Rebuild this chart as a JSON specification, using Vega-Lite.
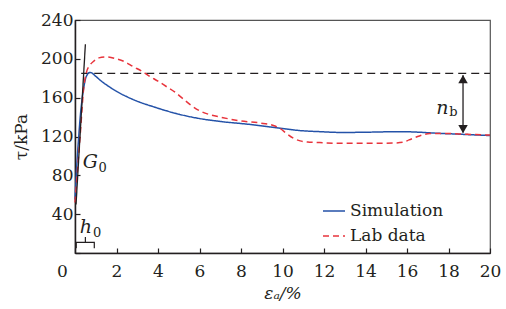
{
  "$schema": "https://vega.github.io/schema/vega-lite/v6.json",
  "width": 415,
  "height": 233,
  "autosize": "none",
  "padding": {"left": 75, "top": 20, "right": 16, "bottom": 56},
  "background": "white",
  "config": {
    "font": "DejaVu Serif",
    "view": {"stroke": "#555555", "strokeWidth": 1.2},
    "axis": {
      "grid": false,
      "domainColor": "#231f20",
      "domainWidth": 1.5,
      "tickColor": "#231f20",
      "tickWidth": 1.2,
      "tickSize": -5,
      "labelFont": "DejaVu Serif",
      "labelFontSize": 17,
      "labelColor": "#231f20",
      "labelOverlap": false,
      "titleFont": "DejaVu Serif",
      "titleFontSize": 17,
      "titleFontWeight": "normal",
      "titleColor": "#231f20"
    },
    "legend": {
      "orient": "none",
      "legendX": 247,
      "legendY": 179,
      "title": null,
      "symbolType": "stroke",
      "symbolSize": 484,
      "symbolStrokeWidth": 1.5,
      "labelFont": "DejaVu Serif",
      "labelFontSize": 17,
      "labelColor": "#231f20",
      "labelOffset": 4,
      "rowPadding": 5,
      "padding": 0
    }
  },
  "datasets": {
    "curves": [
      {"series": "Simulation", "x": 0, "y": 55},
      {"series": "Simulation", "x": 0.1, "y": 95},
      {"series": "Simulation", "x": 0.18, "y": 120},
      {"series": "Simulation", "x": 0.26, "y": 142},
      {"series": "Simulation", "x": 0.34, "y": 158},
      {"series": "Simulation", "x": 0.42, "y": 170},
      {"series": "Simulation", "x": 0.5, "y": 179},
      {"series": "Simulation", "x": 0.6, "y": 184},
      {"series": "Simulation", "x": 0.7, "y": 186},
      {"series": "Simulation", "x": 0.8, "y": 185.5},
      {"series": "Simulation", "x": 1.0, "y": 182},
      {"series": "Simulation", "x": 1.3, "y": 176.5},
      {"series": "Simulation", "x": 1.6, "y": 172},
      {"series": "Simulation", "x": 2.0, "y": 166.5},
      {"series": "Simulation", "x": 2.5, "y": 161},
      {"series": "Simulation", "x": 3.1, "y": 155.5},
      {"series": "Simulation", "x": 3.8, "y": 150.5},
      {"series": "Simulation", "x": 4.4, "y": 146.5},
      {"series": "Simulation", "x": 5.1, "y": 142.5},
      {"series": "Simulation", "x": 6.0, "y": 138.5},
      {"series": "Simulation", "x": 7.0, "y": 135.5},
      {"series": "Simulation", "x": 8.4, "y": 132.5},
      {"series": "Simulation", "x": 9.9, "y": 128.5},
      {"series": "Simulation", "x": 10.9, "y": 126},
      {"series": "Simulation", "x": 11.8, "y": 125},
      {"series": "Simulation", "x": 12.8, "y": 124.2},
      {"series": "Simulation", "x": 13.8, "y": 124.3},
      {"series": "Simulation", "x": 14.7, "y": 124.7},
      {"series": "Simulation", "x": 15.7, "y": 125},
      {"series": "Simulation", "x": 16.5, "y": 124.5},
      {"series": "Simulation", "x": 17.5, "y": 123.3},
      {"series": "Simulation", "x": 18.5, "y": 122.4},
      {"series": "Simulation", "x": 19.3, "y": 121.6},
      {"series": "Simulation", "x": 20, "y": 121},
      {"series": "Lab data", "x": 0, "y": 52},
      {"series": "Lab data", "x": 0.1, "y": 80},
      {"series": "Lab data", "x": 0.26, "y": 124},
      {"series": "Lab data", "x": 0.42, "y": 170},
      {"series": "Lab data", "x": 0.55, "y": 186},
      {"series": "Lab data", "x": 0.7, "y": 193},
      {"series": "Lab data", "x": 0.9, "y": 197.5},
      {"series": "Lab data", "x": 1.15, "y": 201},
      {"series": "Lab data", "x": 1.5, "y": 202},
      {"series": "Lab data", "x": 2.0, "y": 200},
      {"series": "Lab data", "x": 2.4, "y": 197},
      {"series": "Lab data", "x": 2.8, "y": 192},
      {"series": "Lab data", "x": 3.2, "y": 187.5},
      {"series": "Lab data", "x": 3.6, "y": 182},
      {"series": "Lab data", "x": 4.0, "y": 177},
      {"series": "Lab data", "x": 4.4, "y": 171.5},
      {"series": "Lab data", "x": 4.8, "y": 166},
      {"series": "Lab data", "x": 5.2, "y": 159},
      {"series": "Lab data", "x": 5.6, "y": 152},
      {"series": "Lab data", "x": 6.0, "y": 146.5},
      {"series": "Lab data", "x": 6.5, "y": 142.5},
      {"series": "Lab data", "x": 7.0, "y": 140},
      {"series": "Lab data", "x": 8.0, "y": 136},
      {"series": "Lab data", "x": 8.9, "y": 134},
      {"series": "Lab data", "x": 9.6, "y": 131},
      {"series": "Lab data", "x": 9.9, "y": 128},
      {"series": "Lab data", "x": 10.2, "y": 123},
      {"series": "Lab data", "x": 10.5, "y": 118.5},
      {"series": "Lab data", "x": 10.85, "y": 115.5},
      {"series": "Lab data", "x": 11.3, "y": 114.2},
      {"series": "Lab data", "x": 11.8, "y": 113.7},
      {"series": "Lab data", "x": 12.8, "y": 113},
      {"series": "Lab data", "x": 13.8, "y": 113},
      {"series": "Lab data", "x": 14.7, "y": 113},
      {"series": "Lab data", "x": 15.4, "y": 113.3},
      {"series": "Lab data", "x": 15.8, "y": 114},
      {"series": "Lab data", "x": 16.1, "y": 116.5},
      {"series": "Lab data", "x": 16.6, "y": 120.6},
      {"series": "Lab data", "x": 17.1, "y": 123},
      {"series": "Lab data", "x": 17.8, "y": 123.2},
      {"series": "Lab data", "x": 18.5, "y": 122.7},
      {"series": "Lab data", "x": 19.3, "y": 122},
      {"series": "Lab data", "x": 20, "y": 121.5}
    ],
    "tangent": [
      {"x": 0.05, "y": 50},
      {"x": 0.5, "y": 215}
    ],
    "bracket": [
      {"i": 1, "x": 0.06, "y": 5},
      {"i": 2, "x": 0.06, "y": 11},
      {"i": 3, "x": 0.5, "y": 11},
      {"i": 4, "x": 0.5, "y": 16.5},
      {"i": 5, "x": 0.5, "y": 11},
      {"i": 6, "x": 0.93, "y": 11},
      {"i": 7, "x": 0.93, "y": 5}
    ],
    "peakline": [{"x": 0.3, "x2": 20, "y": 185}],
    "arrow": [{"x": 18.7, "y": 183, "y2": 124}],
    "arrowUp": [{"x": 18.7, "y": 179}],
    "arrowDown": [{"x": 18.7, "y": 127.5}],
    "mainLabels": [
      {"t": "G", "x": 0.74, "y": 94},
      {"t": "h", "x": 0.52, "y": 27},
      {"t": "n", "x": 17.7, "y": 149.5}
    ],
    "subLabels": [
      {"t": "0", "x": 1.33, "y": 88},
      {"t": "0", "x": 1.07, "y": 21},
      {"t": "b", "x": 18.24, "y": 145}
    ]
  },
  "layer": [
    {
      "data": {"name": "peakline"},
      "mark": {"type": "rule", "color": "#231f20", "strokeWidth": 1.2, "strokeDash": [8, 5]},
      "encoding": {
        "x": {"field": "x", "type": "quantitative", "scale": {"domain": [0, 20], "nice": false}},
        "x2": {"field": "x2"},
        "y": {"field": "y", "type": "quantitative", "scale": {"domain": [0, 240], "nice": false}}
      }
    },
    {
      "data": {"name": "curves"},
      "mark": {"type": "line", "strokeWidth": 1.5, "interpolate": "monotone"},
      "encoding": {
        "x": {
          "field": "x", "type": "quantitative",
          "scale": {"domain": [0, 20], "nice": false},
          "axis": {
            "values": [0, 2, 4, 6, 8, 10, 12, 14, 16, 18, 20],
            "tickCount": 20,
            "title": "εₐ/%",
            "titleFontStyle": "italic",
            "labelOverlap": false,
            "labelPadding": 15,
            "titlePadding": 6,
            "labelFlush": false,
            "labelOffset": {"condition": {"test": "datum.value === 0", "value": -13}, "value": 0}
          }
        },
        "y": {
          "field": "y", "type": "quantitative",
          "scale": {"domain": [0, 240], "nice": false},
          "axis": {
            "values": [0, 40, 80, 120, 160, 200, 240],
            "tickCount": 20,
            "labelExpr": "datum.value === 0 ? '' : datum.label",
            "title": "τ/kPa",
            "labelOverlap": false,
            "labelPadding": 7,
            "titlePadding": 10,
            "labelFlush": false
          }
        },
        "color": {
          "field": "series", "type": "nominal",
          "scale": {"domain": ["Simulation", "Lab data"], "range": ["#2452a8", "#e8343c"]}
        },
        "strokeDash": {
          "field": "series", "type": "nominal",
          "scale": {"domain": ["Simulation", "Lab data"], "range": [[1, 0], [6, 4]]}
        }
      }
    },
    {
      "data": {"name": "tangent"},
      "mark": {"type": "line", "color": "#231f20", "strokeWidth": 1.3},
      "encoding": {
        "x": {"field": "x", "type": "quantitative"},
        "y": {"field": "y", "type": "quantitative"}
      }
    },
    {
      "data": {"name": "bracket"},
      "mark": {"type": "line", "color": "#231f20", "strokeWidth": 1.2},
      "encoding": {
        "x": {"field": "x", "type": "quantitative"},
        "y": {"field": "y", "type": "quantitative"},
        "order": {"field": "i", "type": "quantitative"}
      }
    },
    {
      "data": {"name": "arrow"},
      "mark": {"type": "rule", "color": "#231f20", "strokeWidth": 1.3},
      "encoding": {
        "x": {"field": "x", "type": "quantitative"},
        "y": {"field": "y", "type": "quantitative"},
        "y2": {"field": "y2"}
      }
    },
    {
      "data": {"name": "arrowUp"},
      "mark": {"type": "point", "shape": "triangle-up", "filled": true, "color": "#231f20", "size": 90, "opacity": 1},
      "encoding": {
        "x": {"field": "x", "type": "quantitative"},
        "y": {"field": "y", "type": "quantitative"}
      }
    },
    {
      "data": {"name": "arrowDown"},
      "mark": {"type": "point", "shape": "triangle-down", "filled": true, "color": "#231f20", "size": 90, "opacity": 1},
      "encoding": {
        "x": {"field": "x", "type": "quantitative"},
        "y": {"field": "y", "type": "quantitative"}
      }
    },
    {
      "data": {"name": "mainLabels"},
      "mark": {"type": "text", "font": "DejaVu Serif", "fontSize": 19, "fontStyle": "italic", "color": "#231f20", "align": "center", "baseline": "middle"},
      "encoding": {
        "x": {"field": "x", "type": "quantitative"},
        "y": {"field": "y", "type": "quantitative"},
        "text": {"field": "t"}
      }
    },
    {
      "data": {"name": "subLabels"},
      "mark": {"type": "text", "font": "DejaVu Serif", "fontSize": 13, "color": "#231f20", "align": "center", "baseline": "middle"},
      "encoding": {
        "x": {"field": "x", "type": "quantitative"},
        "y": {"field": "y", "type": "quantitative"},
        "text": {"field": "t"}
      }
    }
  ]
}
